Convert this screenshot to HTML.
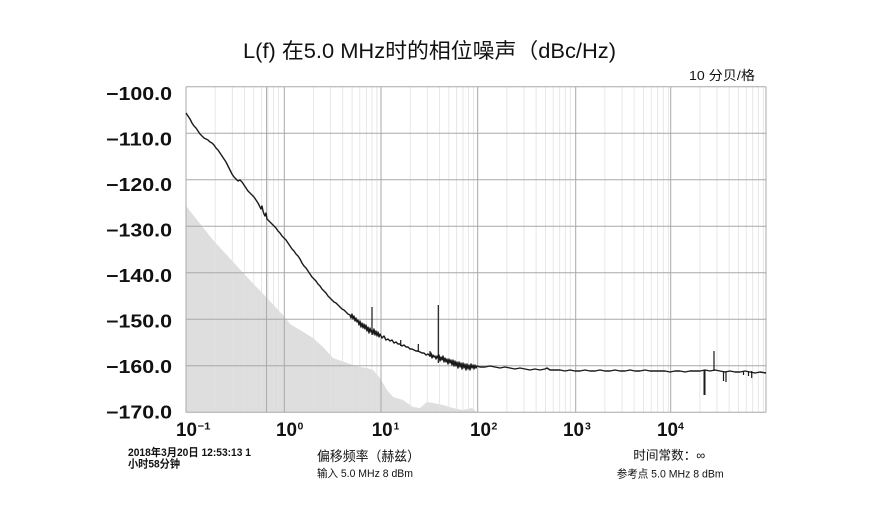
<!DOCTYPE html>
<html>
<head>
<meta charset="utf-8">
<style>
html,body{margin:0;padding:0;background:#fff;}
svg{display:block;}
.cjk{font-family:"Liberation Sans","Noto Sans CJK SC",sans-serif;}
.yl{font-family:"Liberation Sans",sans-serif;font-weight:bold;font-size:18px;fill:#111;}
.xl{font-family:"Liberation Sans",sans-serif;font-weight:bold;font-size:19px;fill:#111;}
.xs{font-family:"Liberation Sans",sans-serif;font-weight:bold;font-size:10.5px;fill:#111;}
</style>
</head>
<body>
<svg width="895" height="506" viewBox="0 0 895 506" xmlns="http://www.w3.org/2000/svg">
<rect width="895" height="506" fill="#fff"/>

<!-- title -->
<text class="cjk" x="243" y="58" font-size="21" fill="#111" textLength="373" lengthAdjust="spacingAndGlyphs">L(f) 在5.0 MHz时的相位噪声（dBc/Hz)</text>
<text class="cjk" x="689" y="80" font-size="13" fill="#111" textLength="66" lengthAdjust="spacingAndGlyphs">10 分贝/格</text>

<!-- gray noise floor -->
<polygon fill="#dedede" points="186,206 213,240 247,277 283,315 290,324 300,330 313,338 323,347 333,358 347,363 360,367 367,368 373,370 380,378 387,390 393,397 403,400 413,407 420,408 427,402 433,403 443,405 453,408 463,410 472,408 477,412 186,412"/>

<!-- minor vertical grid -->
<path fill="none" stroke="#e2e2e2" stroke-width="0.8" d="
M215.2,87V412 M232.3,87V412 M244.4,87V412 M253.8,87V412 M261.5,87V412 M268,87V412 M273.6,87V412 M278.6,87V412
M313.5,87V412 M330.6,87V412 M342.7,87V412 M352.1,87V412 M359.8,87V412 M366.3,87V412 M371.9,87V412 M376.9,87V412
M410.2,87V412 M427.3,87V412 M439.4,87V412 M448.8,87V412 M456.5,87V412 M463,87V412 M468.6,87V412 M473.6,87V412
M506.9,87V412 M524,87V412 M536.1,87V412 M545.5,87V412 M553.2,87V412 M559.7,87V412 M565.3,87V412 M570.3,87V412
M604.9,87V412 M622,87V412 M634.1,87V412 M643.5,87V412 M651.2,87V412 M657.7,87V412 M663.3,87V412 M668.3,87V412
M699.9,87V412 M717,87V412 M729.1,87V412 M738.5,87V412 M746.2,87V412 M752.7,87V412 M758.3,87V412 M763.3,87V412"/>

<!-- major grid -->
<path fill="none" stroke="#a8a8a8" stroke-width="1" d="
M186,86.7H766 M186,133.2H766 M186,179.7H766 M186,226.2H766 M186,272.7H766 M186,319.2H766 M186,365.7H766 M186,412.2H766
M186,86.7V412.2 M284.3,86.7V412.2 M381,86.7V412.2 M477.7,86.7V412.2 M575.7,86.7V412.2 M670.7,86.7V412.2 M766,86.7V412.2"/>
<path fill="none" stroke="#a8a8a8" stroke-width="1" d="M266.6,86.7V412.2"/>

<!-- main curve -->
<path fill="none" stroke="#1a1a1a" stroke-width="1.4" stroke-linejoin="round" d="
M186,113 L188,116 L190,119 L192,123 L194,126 L196,128 L198,131 L200,134 L202,136 L204,138 L206,139 L208,140 L210,142 L212,143 L214,145 L216,148 L218,150 L220,153 L222,156 L224,159 L226,162 L228,166 L230,170 L232,174 L234,177 L236,179 L238,181 L240,180 L242,182 L244,185 L246,188 L248,191 L250,193 L252,195 L254,197 L256,200 L258,203 L260,207 L261,209 L262,206 L263,211 L264,214 L265,216 L266,213 L267,219 L268,220 L270,222 L272,224 L274,226 L276,228 L278,231 L280,233 L282,236 L284,238 L286,240 L288,243 L290,246 L292,249 L294,251 L296,254 L298,256 L300,259 L302,263 L304,266 L306,268 L308,271 L310,274 L312,277 L314,279 L316,281 L318,284 L320,286 L322,289 L324,291 L326,293 L328,296 L330,298 L332,300 L334,302 L336,303 L338,305 L340,307 L342,309 L344,310 L346,312 L348,314 L350,315
L351,318 L352,314 L353,319 L354,316 L355,321 L356,318 L357,322 L358,320 L359,325 L360,321 L361,327 L362,323 L363,328 L364,324 L365,329 L366,325 L367,331 L368,327 L369,333 L370,328 L371,332 L372,330 L373,334 L374,329 L375,335 L376,331 L377,336 L378,332 L379,337 L380,334 L382,338 L384,336 L386,340 L388,339 L390,341 L392,340 L394,343 L396,342 L398,344 L400,344 L402,346 L404,345 L406,347 L408,347 L410,349 L412,349 L414,350 L416,351 L418,351 L420,352 L422,353 L424,353 L426,355 L428,354 L430,356 L431,353 L432,358 L433,355 L434,357 L435,356 L436,359 L437,356 L438,358 L439,355 L440,361 L441,357 L442,360 L443,356 L444,362 L445,358 L446,362 L447,359 L448,364 L449,359 L450,363 L451,360 L452,365 L453,360 L454,366 L455,361 L456,366 L457,362 L458,368 L459,362 L460,367 L461,363 L462,369 L463,363 L464,368 L465,364 L466,370 L467,364 L468,369 L469,365 L470,370 L471,364 L472,368 L473,365 L474,369 L475,365 L476,368 L477,366 L480,367
L485,367 L490,366 L495,367 L500,368 L505,367 L510,368 L515,369 L520,368 L525,369 L530,370 L535,369 L540,370 L545,369 L547,368 L550,370 L555,370 L560,370 L565,371 L570,370 L575,371 L580,371 L585,370 L590,371 L595,371 L600,370 L605,371 L610,371 L615,370 L620,371 L625,371 L630,370 L635,371 L640,371 L645,370 L650,371 L655,371 L660,371 L665,371 L670,372 L675,371 L680,371 L685,372 L690,371 L695,371 L700,371 L705,370 L710,371 L715,370 L720,371 L725,372 L730,371 L735,372 L740,372 L745,371 L750,372 L755,373 L760,372 L766,373"/>

<!-- spikes -->
<path fill="none" stroke="#1a1a1a" stroke-width="1.2" d="
M372,307V335 M438.3,305V363 M400.7,340V346 M418.3,344V352 M430,351V357
M714,351V371 M723.5,371V381 M726,371V382 M743.5,371V375 M748.5,371V376 M751.7,371V378"/>
<path fill="none" stroke="#1a1a1a" stroke-width="2" d="M704.5,370V395"/>

<!-- y labels -->
<text class="yl" x="106" y="100" textLength="66" lengthAdjust="spacingAndGlyphs">−100.0</text>
<text class="yl" x="106" y="145.5" textLength="66" lengthAdjust="spacingAndGlyphs">−110.0</text>
<text class="yl" x="106" y="191" textLength="66" lengthAdjust="spacingAndGlyphs">−120.0</text>
<text class="yl" x="106" y="236.5" textLength="66" lengthAdjust="spacingAndGlyphs">−130.0</text>
<text class="yl" x="106" y="282" textLength="66" lengthAdjust="spacingAndGlyphs">−140.0</text>
<text class="yl" x="106" y="327.5" textLength="66" lengthAdjust="spacingAndGlyphs">−150.0</text>
<text class="yl" x="106" y="373" textLength="66" lengthAdjust="spacingAndGlyphs">−160.0</text>
<text class="yl" x="106" y="418.5" textLength="66" lengthAdjust="spacingAndGlyphs">−170.0</text>

<!-- x labels -->
<text class="xl" x="176" y="436" textLength="21" lengthAdjust="spacingAndGlyphs">10</text>
<text class="xs" x="197.5" y="429.5" textLength="13" lengthAdjust="spacingAndGlyphs">−1</text>
<text class="xl" x="276" y="436" textLength="21" lengthAdjust="spacingAndGlyphs">10</text>
<text class="xs" x="297.5" y="429.5">0</text>
<text class="xl" x="371.7" y="436" textLength="21" lengthAdjust="spacingAndGlyphs">10</text>
<text class="xs" x="393.5" y="429.5">1</text>
<text class="xl" x="470" y="436" textLength="21" lengthAdjust="spacingAndGlyphs">10</text>
<text class="xs" x="491.5" y="429.5">2</text>
<text class="xl" x="563" y="436" textLength="21" lengthAdjust="spacingAndGlyphs">10</text>
<text class="xs" x="585" y="429.5">3</text>
<text class="xl" x="657" y="436" textLength="21" lengthAdjust="spacingAndGlyphs">10</text>
<text class="xs" x="678" y="429.5">4</text>

<!-- bottom annotations -->
<text class="cjk" x="128" y="456" font-size="11" font-weight="bold" fill="#111" textLength="123" lengthAdjust="spacingAndGlyphs">2018年3月20日 12:53:13 1</text>
<text class="cjk" x="128" y="467.5" font-size="11" font-weight="bold" fill="#111" textLength="52" lengthAdjust="spacingAndGlyphs">小时58分钟</text>
<text class="cjk" x="317" y="461" font-size="13.5" fill="#111" textLength="103" lengthAdjust="spacingAndGlyphs">偏移频率（赫兹）</text>
<text class="cjk" x="317" y="477" font-size="11" fill="#111" textLength="96" lengthAdjust="spacingAndGlyphs">输入 5.0 MHz 8 dBm</text>
<text class="cjk" x="633.3" y="459.5" font-size="12.5" fill="#111" textLength="72" lengthAdjust="spacingAndGlyphs">时间常数：∞</text>
<text class="cjk" x="616.7" y="477.5" font-size="11" fill="#111" textLength="107" lengthAdjust="spacingAndGlyphs">参考点 5.0 MHz 8 dBm</text>
</svg>
</body>
</html>
